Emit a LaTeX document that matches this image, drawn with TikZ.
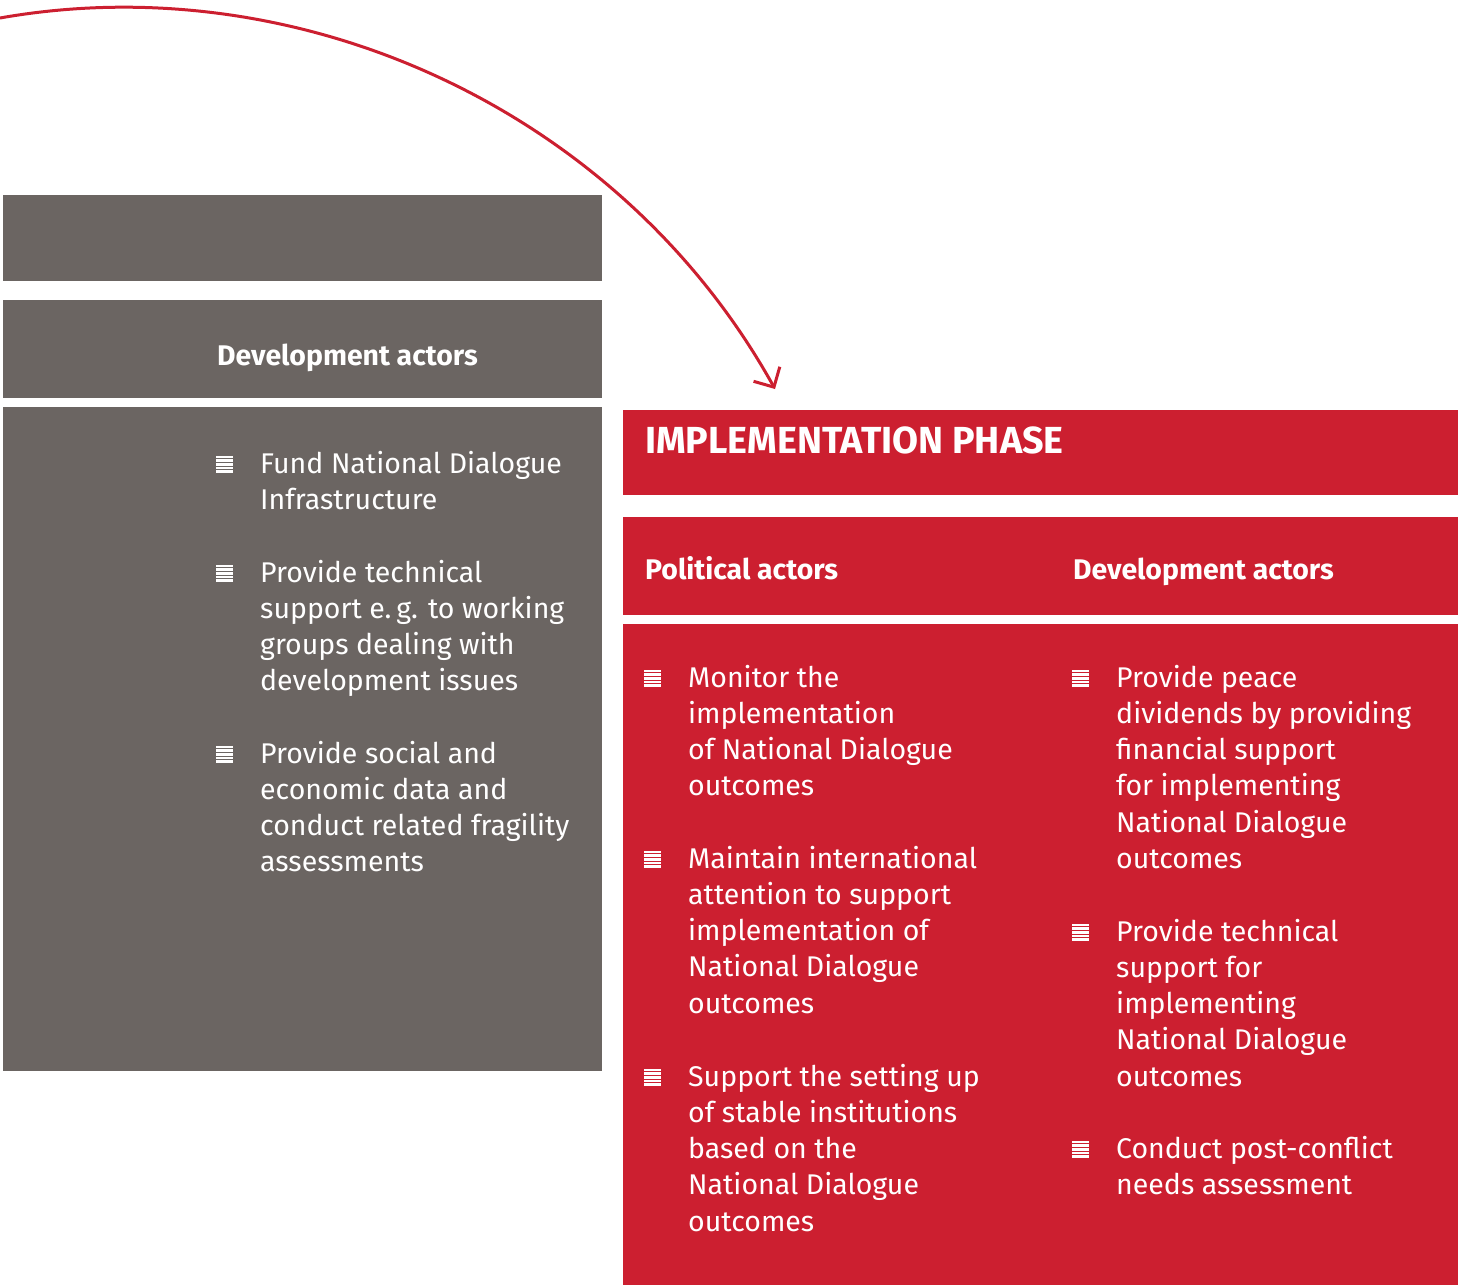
\documentclass[tikz,border=0pt]{standalone}
\usepackage{fontspec}
\setmainfont{Fira Sans}
\usetikzlibrary{arrows.meta}
\definecolor{dgray}{RGB}{107,101,98}
\definecolor{dred}{RGB}{204,31,48}
\tikzset{
  hdr/.style={anchor=base west, inner sep=0, text=white, font=\fontsize{28.4}{32}\selectfont\bfseries},
  title/.style={anchor=base west, inner sep=0, text=white, font=\fontsize{37.7}{40}\selectfont\bfseries},
  item/.style={anchor=base west, inner sep=0, text=white, align=left, font=\fontsize{28.5}{36.3}\selectfont},
  bul/.style={anchor=south west, inner sep=0, minimum width=17pt, minimum height=17pt,
    path picture={\foreach \i in {0,...,4}
      \fill[white] ([yshift=-\i*3.6pt]path picture bounding box.north west) rectangle ++(17pt,-2.6pt);}},
}
\begin{document}
\begin{tikzpicture}[x=1pt,y=-1pt]
\useasboundingbox (0,0) rectangle (1461,1285);
% grey panels
\fill[dgray] (3,195) rectangle (602,281);
\fill[dgray] (3,300) rectangle (602,398);
\fill[dgray] (3,407) rectangle (602,1071);
% red panels
\fill[dred] (623,410) rectangle (1458,495);
\fill[dred] (623,517) rectangle (1458,615);
\fill[dred] (623,624) rectangle (1458,1285);
% headers
\node[hdr] (gdev) at (217,365) {Development actors};
\node[title] (impl) at (645,453) {IMPLEMENTATION PHASE};
\node[hdr] (pol) at (645,579) {Political actors};
\node[hdr] (rdev) at (1073,579) {Development actors};
% grey items (anchor = baseline of last line)
\node[bul] (gb1) at (216,473) {};
\node[item] (gi1) at (260,509.3) {Fund National Dialogue\\Infrastructure};
\node[bul] (gb2) at (216,582) {};
\node[item] (gi2) at (260,690.9) {Provide technical\\support e.\,g. to working\\groups dealing with\\development issues};
\node[bul] (gb3) at (216,763) {};
\node[item] (gi3) at (260,871.9) {Provide social and\\economic data and\\conduct related fragility\\assessments};
% political items
\node[bul] (pb1) at (644,687) {};
\node[item] (pi1) at (688,795.9) {Monitor the\\implementation\\of National Dialogue\\outcomes};
\node[bul] (pb2) at (644,868) {};
\node[item] (pi2) at (688,1013.2) {Maintain international\\attention to support\\implementation of\\National Dialogue\\outcomes};
\node[bul] (pb3) at (644,1086) {};
\node[item] (pi3) at (688,1231.2) {Support the setting up\\of stable institutions\\based on the\\National Dialogue\\outcomes};
% development items
\node[bul] (db1) at (1072,687) {};
\node[item] (di1) at (1116,868.5) {Provide peace\\dividends by providing\\financial support\\for implementing\\National Dialogue\\outcomes};
\node[bul] (db2) at (1072,941) {};
\node[item] (di2) at (1116,1086.2) {Provide technical\\support for\\implementing\\National Dialogue\\outcomes};
\node[bul] (db3) at (1072,1158) {};
\node[item] (di3) at (1116,1194.3) {Conduct post-conflict\\needs assessment};
% arrow
\coordinate (astart) at (0,18);
\coordinate (aend) at (775,389);
\draw[dred, line width=3pt, -{Straight Barb[length=15pt,width=30pt]}]
  (astart) .. controls (300,-35) and (620,110) .. (aend);
\end{tikzpicture}
\end{document}
